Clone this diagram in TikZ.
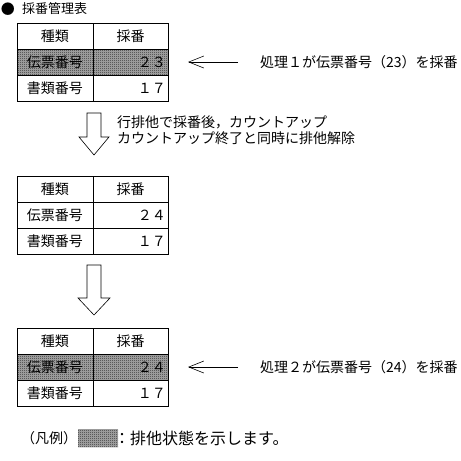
\documentclass[tikz,border=0pt]{standalone}
\usepackage{fontspec}
\setmainfont{Noto Sans CJK JP}
\usetikzlibrary{arrows.meta,patterns.meta}

\tikzdeclarepattern{
  name=stipple,
  type=uncolored,
  bottom left={(0pt,0pt)},
  top right={(2pt,2pt)},
  tile size={(2pt,2pt)},
  code={
    \fill (0pt,0pt) rectangle (1pt,1pt);
    \fill (1pt,1pt) rectangle (2pt,2pt);
  }
}

\begin{document}
\begin{tikzpicture}[x=1pt,y=-1pt,
  font=\fontsize{14}{16}\selectfont,
  every node/.style={inner sep=0pt},
  grid/.style={line width=0.8pt},
  lockrow/.style={preaction={fill=black!30},pattern=stipple},
  ptr/.style={-{Straight Barb[length=15pt,width=12pt]},line width=0.6pt},
  blockarrow/.style={line width=0.6pt}]
  \useasboundingbox (0,0) rectangle (461,461);

  % title
  \node (bullet) at (8,9) {●};
  \node[anchor=west,font=\fontsize{13}{15}\selectfont] (title) at (22,9) {採番管理表};

  % table 1
  \begin{scope}[shift={(0,23)}]
    \fill[lockrow] (17,26) rectangle (168,52);
    \draw[grid] (17,0) rectangle (168,78);
    \draw[grid] (17,26) -- (168,26) (17,52) -- (168,52) (93,0) -- (93,78);
    \node (t1kind) at (55,13) {種類};
    \node (t1num) at (130.5,13) {採番};
    \node (t1slipk) at (55,39) {伝票番号};
    \node[anchor=east] (t1slipv) at (166,39) {２３};
    \node (t1docsk) at (55,65) {書類番号};
    \node[anchor=east] (t1docsv) at (166,65) {１７};
  \end{scope}
  \node[anchor=west] (cap1) at (260,62) {処理１が伝票番号（23）を採番};
  \draw[ptr,shorten >=22pt,shorten <=22pt] (cap1.west) -- (t1slipv.east);

  % block arrow 1
  \draw[blockarrow] (87,113) -- (87,137) -- (79,137) -- (94,155)
    -- (109,137) -- (101,137) -- (101,113) -- cycle;
  \node[anchor=west,align=left] (note) at (117,130)
    {行排他で採番後，カウントアップ\\カウントアップ終了と同時に排他解除};

  % table 2
  \begin{scope}[shift={(0,176)}]
    \draw[grid] (17,0) rectangle (168,78);
    \draw[grid] (17,26) -- (168,26) (17,52) -- (168,52) (93,0) -- (93,78);
    \node (t2kind) at (55,13) {種類};
    \node (t2num) at (130.5,13) {採番};
    \node (t2slipk) at (55,39) {伝票番号};
    \node[anchor=east] (t2slipv) at (166,39) {２４};
    \node (t2docsk) at (55,65) {書類番号};
    \node[anchor=east] (t2docsv) at (166,65) {１７};
  \end{scope}

  % block arrow 2
  \draw[blockarrow] (87,265) -- (87,298) -- (78,298) -- (94,315)
    -- (110,298) -- (101,298) -- (101,265) -- cycle;

  % table 3
  \begin{scope}[shift={(0,328)}]
    \fill[lockrow] (17,26) rectangle (168,52);
    \draw[grid] (17,0) rectangle (168,78);
    \draw[grid] (17,26) -- (168,26) (17,52) -- (168,52) (93,0) -- (93,78);
    \node (t3kind) at (55,13) {種類};
    \node (t3num) at (130.5,13) {採番};
    \node (t3slipk) at (55,39) {伝票番号};
    \node[anchor=east] (t3slipv) at (166,39) {２４};
    \node (t3docsk) at (55,65) {書類番号};
    \node[anchor=east] (t3docsv) at (166,65) {１７};
  \end{scope}
  \node[anchor=west] (cap2) at (260,367) {処理２が伝票番号（24）を採番};
  \draw[ptr,shorten >=22pt,shorten <=22pt] (cap2.west) -- (t3slipv.east);

  % legend
  \node[anchor=west] (legend) at (21,438) {（凡例）};
  \fill[lockrow] (78,429) rectangle (118,447);
  \node[anchor=west,font=\fontsize{16}{18}\selectfont] (legendtxt) at (114,438) {：排他状態を示します。};
\end{tikzpicture}
\end{document}
